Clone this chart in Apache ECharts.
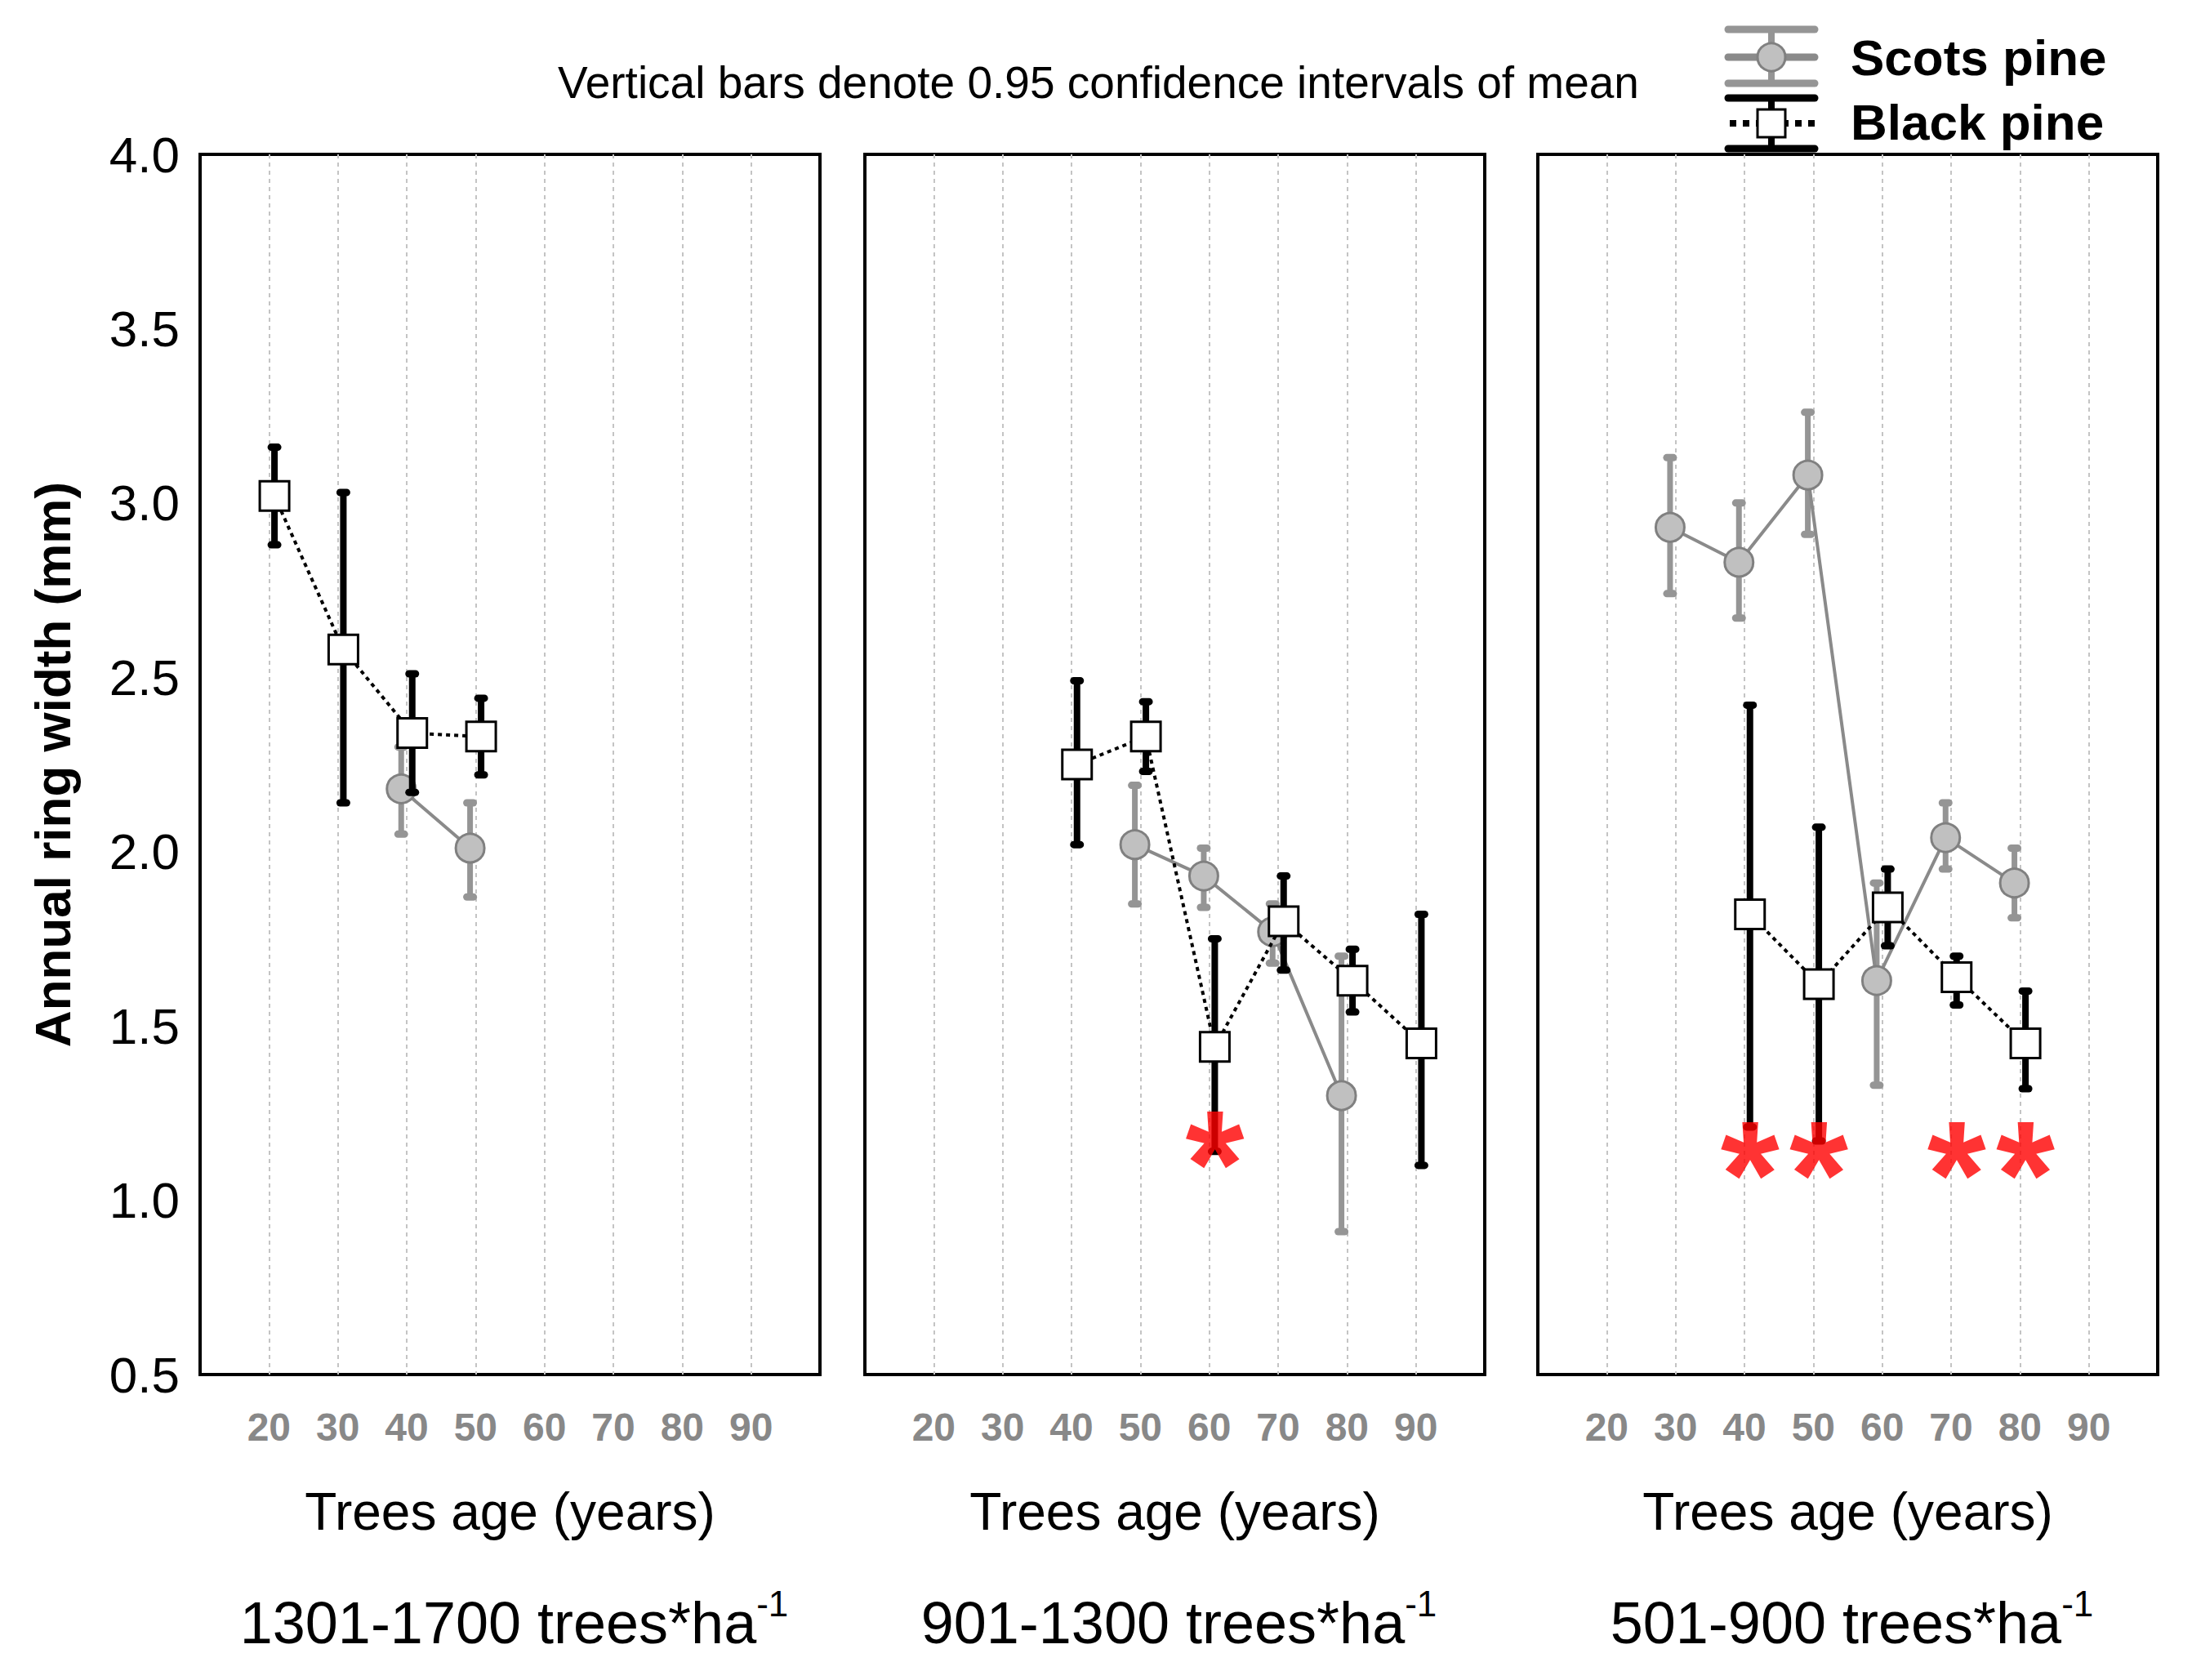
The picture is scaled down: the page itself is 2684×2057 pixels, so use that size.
<!DOCTYPE html>
<html>
<head>
<meta charset="utf-8">
<script src="https://cdn.jsdelivr.net/npm/echarts@6/dist/echarts.min.js"></script>
<style>
    html, body { margin: 0; padding: 0; background: #fff; }
    #chart { width: 2684px; height: 2057px; }
</style>
</head>
<body>
<div id="chart"></div>
<script>
    // axis ticks
    var X_TICKS = [20, 30, 40, 50, 60, 70, 80, 90];
    var Y_TICKS = [0.5, 1.0, 1.5, 2.0, 2.5, 3.0, 3.5, 4.0];

    var densityLabels = ['1301-1700 trees*ha', '901-1300 trees*ha', '501-900 trees*ha'];

    // 1301-1700 trees/ha
    var scotsAge1 = [40, 50];
    var scotsMean1 = [2.18, 2.01];
    var scotsLow1 = [2.05, 1.87];
    var scotsHigh1 = [2.30, 2.14];
    var blackAge1 = [20, 30, 40, 50];
    var blackMean1 = [3.02, 2.58, 2.34, 2.33];
    var blackLow1 = [2.88, 2.14, 2.17, 2.22];
    var blackHigh1 = [3.16, 3.03, 2.51, 2.44];
    var starAge1 = [];
    var starLevel1 = 1.15;

    // 901-1300 trees/ha
    var scotsAge2 = [50, 60, 70, 80];
    var scotsMean2 = [2.02, 1.93, 1.77, 1.30];
    var scotsLow2 = [1.85, 1.84, 1.68, 0.91];
    var scotsHigh2 = [2.19, 2.01, 1.85, 1.70];
    var blackAge2 = [40, 50, 60, 70, 80, 90];
    var blackMean2 = [2.25, 2.33, 1.44, 1.80, 1.63, 1.45];
    var blackLow2 = [2.02, 2.23, 1.14, 1.66, 1.54, 1.10];
    var blackHigh2 = [2.49, 2.43, 1.75, 1.93, 1.72, 1.82];
    var starAge2 = [60];
    var starLevel2 = 1.17;

    // 501-900 trees/ha
    var scotsAge3 = [30, 40, 50, 60, 70, 80];
    var scotsMean3 = [2.93, 2.83, 3.08, 1.63, 2.04, 1.91];
    var scotsLow3 = [2.74, 2.67, 2.91, 1.33, 1.95, 1.81];
    var scotsHigh3 = [3.13, 3.00, 3.26, 1.91, 2.14, 2.01];
    var blackAge3 = [40, 50, 60, 70, 80];
    var blackMean3 = [1.82, 1.62, 1.84, 1.64, 1.45];
    var blackLow3 = [1.21, 1.17, 1.73, 1.56, 1.32];
    var blackHigh3 = [2.42, 2.07, 1.95, 1.70, 1.60];
    var starAge3 = [40, 50, 70, 80];
    var starLevel3 = 1.14;

    var panels = [
        {sa: scotsAge1, sm: scotsMean1, sl: scotsLow1, sh: scotsHigh1, ba: blackAge1, bm: blackMean1, bl: blackLow1, bh: blackHigh1, st: starAge1, sy: starLevel1},
        {sa: scotsAge2, sm: scotsMean2, sl: scotsLow2, sh: scotsHigh2, ba: blackAge2, bm: blackMean2, bl: blackLow2, bh: blackHigh2, st: starAge2, sy: starLevel2},
        {sa: scotsAge3, sm: scotsMean3, sl: scotsLow3, sh: scotsHigh3, ba: blackAge3, bm: blackMean3, bl: blackLow3, bh: blackHigh3, st: starAge3, sy: starLevel3}
    ];

    var FONT = "'Liberation Sans', Arial, sans-serif";
    var GRID_LEFT = [245, 1059, 1883];
    var GRID_W = 759;
    var DODGE = 0.8;   // scots shifted left, black shifted right
    var GREY_BAR = '#959595';

    function errorBar(color, w) {
        return function (params, api) {
            var top = api.coord([api.value(0), api.value(2)]);
            var bot = api.coord([api.value(0), api.value(1)]);
            var cw = 17, ch = 9;
            return {
                type: 'group',
                children: [
                    {type: 'line', shape: {x1: top[0], y1: top[1], x2: bot[0], y2: bot[1]}, style: {stroke: color, lineWidth: w}},
                    {type: 'rect', shape: {x: top[0] - cw / 2, y: top[1] - ch / 2, width: cw, height: ch, r: ch / 2}, style: {fill: color}},
                    {type: 'rect', shape: {x: bot[0] - cw / 2, y: bot[1] - ch / 2, width: cw, height: ch, r: ch / 2}, style: {fill: color}}
                ]
            };
        };
    }

    var grids = [], xAxes = [], yAxes = [], series = [];
    var titles = [{
        text: 'Vertical bars denote 0.95 confidence intervals of mean',
        left: 1340, top: 68, textAlign: 'center',
        textStyle: {fontSize: 55, fontWeight: 'normal', color: '#000', fontFamily: FONT}
    }];

    panels.forEach(function (p, i) {
        grids.push({left: GRID_LEFT[i], top: 189, width: GRID_W, height: 1494,
            show: true, borderColor: '#000', borderWidth: 4, backgroundColor: 'transparent'});

        xAxes.push({
            type: 'value', gridIndex: i, min: 10, max: 100, interval: 10,
            axisLine: {show: false}, axisTick: {show: false},
            splitLine: {show: true, showMinLine: false, showMaxLine: false,
                lineStyle: {color: '#c4c4c4', width: 2, type: [5, 5]}},
            axisLabel: {
                formatter: function (v) { return X_TICKS.indexOf(v) >= 0 ? String(v) : ''; },
                color: '#888', fontWeight: 'bold', fontSize: 48, fontFamily: FONT, margin: 40
            },
            name: 'Trees age (years)', nameLocation: 'middle', nameGap: 136,
            nameTextStyle: {fontSize: 64, color: '#000', fontFamily: FONT}
        });

        yAxes.push({
            type: 'value', gridIndex: i, min: Y_TICKS[0], max: Y_TICKS[Y_TICKS.length - 1], interval: 0.5,
            axisLine: {show: false}, axisTick: {show: false}, splitLine: {show: false},
            axisLabel: {show: i === 0, formatter: function (v) { return v.toFixed(1); },
                fontSize: 62, color: '#000', fontFamily: FONT, margin: 25},
            name: i === 0 ? 'Annual ring width (mm)' : '', nameLocation: 'middle', nameGap: 150,
            nameTextStyle: {fontSize: 62, fontWeight: 'bold', color: '#000', fontFamily: FONT}
        });

        titles.push({
            text: '{a|' + densityLabels[i] + '}{b|-1}',
            left: GRID_LEFT[i] + GRID_W / 2, top: 1936, textAlign: 'center',
            textStyle: {
                fontWeight: 'normal',
                rich: {
                    a: {fontSize: 72, fontWeight: 'normal', color: '#000', fontFamily: FONT, lineHeight: 92},
                    b: {fontSize: 44, fontWeight: 'normal', color: '#000', fontFamily: FONT, verticalAlign: 'top', lineHeight: 40}
                }
            }
        });

        series.push({
            type: 'custom', name: 'Scots pine', xAxisIndex: i, yAxisIndex: i, z: 2,
            renderItem: errorBar(GREY_BAR, 7),
            data: p.sa.map(function (a, k) { return [a - DODGE, p.sl[k], p.sh[k]]; })
        });
        series.push({
            type: 'line', name: 'Scots pine', xAxisIndex: i, yAxisIndex: i, z: 3,
            data: p.sa.map(function (a, k) { return [a - DODGE, p.sm[k]]; }),
            symbol: 'circle', symbolSize: 35,
            itemStyle: {color: '#c0c0c0', borderColor: '#808080', borderWidth: 3},
            lineStyle: {color: '#8a8a8a', width: 4}
        });
        series.push({
            type: 'custom', name: 'Black pine', xAxisIndex: i, yAxisIndex: i, z: 4,
            renderItem: errorBar('#000', 8),
            data: p.ba.map(function (a, k) { return [a + DODGE, p.bl[k], p.bh[k]]; })
        });
        series.push({
            type: 'line', name: 'Black pine', xAxisIndex: i, yAxisIndex: i, z: 5,
            data: p.ba.map(function (a, k) { return [a + DODGE, p.bm[k]]; }),
            symbol: 'rect', symbolSize: 36,
            itemStyle: {color: '#fff', borderColor: '#000', borderWidth: 3},
            lineStyle: {color: '#000', width: 4, type: [5, 5]}
        });
        series.push({
            type: 'scatter', xAxisIndex: i, yAxisIndex: i, z: 6, silent: true,
            data: p.st.map(function (a) { return [a + DODGE, p.sy]; }),
            symbolSize: 2, itemStyle: {color: 'rgba(0,0,0,0)'},
            label: {show: true, formatter: '*', position: 'inside', fontSize: 185, fontWeight: 'bold',
                color: '#ff0000', fontFamily: FONT, offset: [0, 28]}
        });
    });

    // legend drawn by hand to get the error-bar icons
    var legendGraphics = [
        {type: 'line', shape: {x1: 2116, y1: 36, x2: 2222, y2: 36}, style: {stroke: GREY_BAR, lineWidth: 9, lineCap: 'round'}},
        {type: 'line', shape: {x1: 2116, y1: 70, x2: 2222, y2: 70}, style: {stroke: '#8a8a8a', lineWidth: 9, lineCap: 'round'}},
        {type: 'line', shape: {x1: 2116, y1: 102, x2: 2222, y2: 102}, style: {stroke: GREY_BAR, lineWidth: 9, lineCap: 'round'}},
        {type: 'line', shape: {x1: 2169, y1: 36, x2: 2169, y2: 102}, style: {stroke: GREY_BAR, lineWidth: 8}},
        {type: 'circle', shape: {cx: 2169, cy: 70, r: 17}, style: {fill: '#c0c0c0', stroke: '#808080', lineWidth: 3}},
        {type: 'line', shape: {x1: 2116, y1: 120, x2: 2222, y2: 120}, style: {stroke: '#000', lineWidth: 9, lineCap: 'round'}},
        {type: 'line', shape: {x1: 2116, y1: 182, x2: 2222, y2: 182}, style: {stroke: '#000', lineWidth: 9, lineCap: 'round'}},
        {type: 'line', shape: {x1: 2169, y1: 120, x2: 2169, y2: 182}, style: {stroke: '#000', lineWidth: 8}},
        {type: 'line', shape: {x1: 2118, y1: 151, x2: 2222, y2: 151}, style: {stroke: '#000', lineWidth: 8, lineDash: [8, 8]}},
        {type: 'rect', shape: {x: 2152, y: 134, width: 34, height: 34}, style: {fill: '#fff', stroke: '#000', lineWidth: 3}},
        {type: 'text', x: 2266, y: 70, style: {text: 'Scots pine', font: 'bold 62px ' + FONT, fill: '#000', verticalAlign: 'middle'}},
        {type: 'text', x: 2266, y: 149, style: {text: 'Black pine', font: 'bold 62px ' + FONT, fill: '#000', verticalAlign: 'middle'}}
    ];

    var chart = echarts.init(document.getElementById('chart'), null, {renderer: 'svg'});
    chart.setOption({
        animation: false,
        backgroundColor: '#fff',
        title: titles,
        grid: grids,
        xAxis: xAxes,
        yAxis: yAxes,
        series: series,
        graphic: legendGraphics
    });
</script>
</body>
</html>
